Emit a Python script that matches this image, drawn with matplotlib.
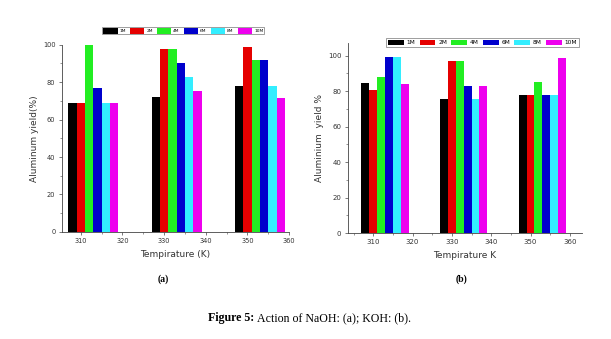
import numpy as np
import matplotlib
matplotlib.use("Agg")
import matplotlib.pyplot as plt
from matplotlib.ticker import MultipleLocator

# temperature groups (K) and NaOH / KOH concentrations
temps = [310, 330, 350]
concs = ["1M", "2M", "4M", "6M", "8M", "10M"]
colors = ["#000000", "#e50000", "#22ee22", "#0000cc", "#33eeff", "#ee00ee"]

# aluminium yield (%) per concentration, one value per temperature
naoh_yield = [
    [69, 72, 78],    # 1M
    [69, 97.5, 98.6],  # 2M
    [100, 97.5, 92],   # 4M
    [77, 90, 92],    # 6M
    [69, 83, 78],    # 8M
    [69, 75.5, 71.5],  # 10M
]
koh_yield = [
    [84.5, 75.8, 78],  # 1M
    [80.5, 97.2, 78],  # 2M
    [88, 97.2, 85],    # 4M
    [99.5, 82.8, 78],  # 6M
    [99.5, 75.5, 78],  # 8M
    [84.3, 82.8, 98.7],  # 10M
]

bar_w = 2.0
tick_col = "#333333"


def draw_panel(ax, data, xlim, ylim, ylabel, xlabel, tick_fs):
    for i, (vals, c) in enumerate(zip(data, colors)):
        xs = np.array(temps) - 2 + i * bar_w
        ax.bar(xs, vals, width=bar_w, color=c, label=concs[i], linewidth=0)
    ax.set_xlim(*xlim)
    ax.set_ylim(*ylim)
    ax.set_xticks([310, 320, 330, 340, 350, 360])
    ax.set_yticks([0, 20, 40, 60, 80, 100])
    ax.xaxis.set_minor_locator(MultipleLocator(5))
    ax.yaxis.set_minor_locator(MultipleLocator(10))
    for s in ["top", "right"]:
        ax.spines[s].set_visible(False)
    for s in ["left", "bottom"]:
        ax.spines[s].set_linewidth(0.6)
        ax.spines[s].set_color("#444444")
    ax.tick_params(which="major", direction="out", length=2.5, width=0.5,
                   labelsize=tick_fs, colors="#444444", labelcolor=tick_col, pad=2)
    ax.tick_params(which="minor", direction="out", length=1.3, width=0.4,
                   colors="#444444")
    ax.set_ylabel(ylabel, fontsize=6.5, color=tick_col, labelpad=3)
    ax.set_xlabel(xlabel, fontsize=6.5, color=tick_col, labelpad=4)


fig = plt.figure(figsize=(6.11, 3.39), dpi=100)

ax1 = fig.add_axes([0.101, 0.316, 0.372, 0.552])
draw_panel(ax1, naoh_yield, (305.4, 360), (0, 100),
           "Aluminum yield(%)", "Tempirature (K)", 4.8)
leg1 = ax1.legend(loc="center", bbox_to_anchor=(0.300, 0.909),
                  bbox_transform=fig.transFigure, ncol=6, fontsize=3.2,
                  handlelength=3.2, handleheight=1.5, handletextpad=0.4,
                  columnspacing=1.0, borderpad=0.2, fancybox=False,
                  frameon=True, edgecolor="#555555")
leg1.get_frame().set_linewidth(0.5)

ax2 = fig.add_axes([0.569, 0.312, 0.383, 0.562])
draw_panel(ax2, koh_yield, (303.5, 363), (0, 107.3),
           "Aluminium  yield %", "Tempirature K", 5.0)
leg2 = ax2.legend(loc="center", bbox_to_anchor=(0.790, 0.875),
                  bbox_transform=fig.transFigure, ncol=6, fontsize=4.2,
                  handlelength=2.7, handleheight=1.0, handletextpad=0.5,
                  columnspacing=0.7, borderpad=0.3, fancybox=False,
                  frameon=True, edgecolor="#555555")
leg2.get_frame().set_linewidth(0.5)

fig.text(163 / 611, 1 - 279 / 339, "(a)", ha="center", va="center",
         fontsize=7, fontweight="bold", family="Liberation Serif")
fig.text(461 / 611, 1 - 279 / 339, "(b)", ha="center", va="center",
         fontsize=7, fontweight="bold", family="Liberation Serif")

# caption: bold figure number followed by regular text
cap_y = 1 - 318 / 339
t1 = fig.text(208 / 611, cap_y, "Figure 5:", ha="left", va="center",
              fontsize=8.6, fontweight="bold", family="Liberation Serif")
fig.canvas.draw()
bb = t1.get_window_extent()
x2 = bb.x1 / fig.bbox.width + 3 / 611
fig.text(x2, cap_y, "Action of NaOH: (a); KOH: (b).", ha="left", va="center",
         fontsize=8.6, family="Liberation Serif")

fig.savefig("out.png", dpi=100)
